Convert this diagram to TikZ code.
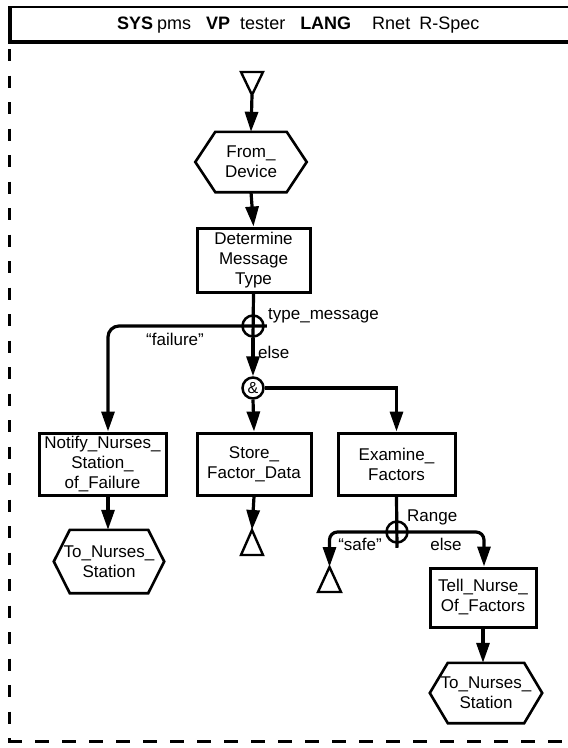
\documentclass[tikz,border=0pt]{standalone}
\usepackage{fontspec}
\setmainfont{Liberation Sans}
\usetikzlibrary{arrows.meta}

% outline of a hexagonal terminal drawn around a (borderless) text node
\newcommand\hexoutline[2]{%
  \draw[hexline] ([xshift=#2pt]#1.north west) -- ([xshift=-#2pt]#1.north east)
    -- (#1.east) -- ([xshift=-#2pt]#1.south east)
    -- ([xshift=#2pt]#1.south west) -- (#1.west) -- cycle;}

\begin{document}
\begin{tikzpicture}[x=1pt,y=-1pt,
  every node/.style={font=\fontsize{17}{20}\selectfont, inner sep=0pt, align=center},
  proc/.style={draw, line width=3pt},
  hexline/.style={line width=2.6pt, line join=miter},
  hexnode/.style={},
  junction/.style={circle, draw, line width=2.5pt, minimum size=21pt},
  link/.style={line width=3.2pt},
  arr/.style={line width=3.2pt, -{Triangle[length=20pt,width=13pt]}},
  term/.style={line width=2.4pt, line join=miter},
  frame/.style={line width=3pt}]

\useasboundingbox (0,0) rectangle (568,748);

% header strip
\draw[line width=1.8pt] (9,7) -- (580,7);
\draw[line width=3.2pt] (580,42) -- (10,42) -- (10,6);
\node[anchor=west] (hdrText) at (117,25) {\fontsize{18}{20}\selectfont
  \textbf{SYS}\hspace{4pt}pms\hspace{15pt}\textbf{VP}\hspace{10pt}tester\hspace{15pt}%
  \textbf{LANG}\hspace{21pt}Rnet\hspace{9pt}R-Spec};

% dashed outer frame (left and bottom sides)
\draw[frame, dash pattern=on 12pt off 14.5pt] (9,49) -- (9,742);
\draw[frame, dash pattern=on 14pt off 13pt] (8,741) -- (580,741);

% start terminal
\coordinate (startTip) at (252,95);
\draw[term] (startTip) -- ++(11,-23) -- ++(-22,0) -- cycle;

% nodes
\node[hexnode, minimum width=111pt, minimum height=60pt] (fromDev) at (251,162) {From\_\\Device};
\hexoutline{fromDev}{20}

\node[proc, minimum width=113pt, minimum height=64pt] (det) at (253.5,260) {Determine\\Message\\Type};

\node[junction] (xa) at (253,326) {};
\node[junction, font=\fontsize{16}{16}\selectfont] (amp) at (253,388) {\&};

\node[proc, minimum width=127pt, minimum height=62pt] (notify) at (102.5,464) {Notify\_Nurses\_\\Station\_\\of\_Failure};
\node[proc, minimum width=114pt, minimum height=62pt] (store) at (254,464) {Store\_\\Factor\_Data};
\node[proc, minimum width=117pt, minimum height=62pt] (exam) at (396.5,464) {Examine\_\\Factors};

\node[hexnode, minimum width=110pt, minimum height=63pt] (toNurseL) at (109,561.5) {To\_Nurses\_\\Station};
\hexoutline{toNurseL}{16}

\coordinate (storeEnd) at (252,530);
\draw[term] (storeEnd) -- ++(11,25) -- ++(-22,0) -- cycle;

\node[junction] (xb) at (397,532) {};

\coordinate (safeEnd) at (329.5,567);
\draw[term] (safeEnd) -- ++(11.5,25) -- ++(-23,0) -- cycle;

\node[proc, minimum width=106pt, minimum height=59pt] (tell) at (483,597.5) {Tell\_Nurse\_\\Of\_Factors};

\node[hexnode, minimum width=112pt, minimum height=60pt] (toNurseR) at (486,693) {To\_Nurses\_\\Station};
\hexoutline{toNurseR}{18}

% entry points off the box centres
\coordinate (notifyIn) at ([xshift=5.5pt]notify.north);
\coordinate (notifyOut) at ([xshift=5.5pt]notify.south);
\coordinate (examIn) at (exam.north);
\coordinate (tellIn) at ([xshift=1pt]tell.north);

% connectors
\draw[arr] (startTip) -- (fromDev.north);
\draw[arr] (fromDev.south) -- (det.north);
\draw[link] (det.south) -- (xa.south);
\draw[arr, rounded corners=11pt] ([xshift=2pt]xa.east) -- (xa -| notifyIn) -- (notifyIn);
\draw[arr] (xa.south) -- (amp.north);
\draw[arr] (amp.south) -- (store.north);
\draw[arr] (amp.east) -- (amp -| examIn) -- (examIn);
\draw[arr] (notifyOut) -- (notifyOut |- toNurseL.north);
\draw[arr] (store.south) -- (storeEnd);
\draw[link] (exam.south) -- ([yshift=-4pt]xb.south);
\draw[arr, rounded corners=8pt] (xb.center) -- (xb -| safeEnd) -- (safeEnd);
\draw[arr, rounded corners=8pt] (xb.center) -- (xb -| tellIn) -- (tellIn);
\draw[arr] (tell.south) -- (tell.south |- toNurseR.north);

% branch labels
\node[anchor=west] (lblType) at (268,316) {type\_message};
\node (lblFail) at (175,339) {“failure”};
\node[anchor=west] (lblElseA) at (258,352) {else};
\node[anchor=west] (lblRange) at (407,517) {Range};
\node (lblSafe) at (360,544) {“safe”};
\node (lblElseB) at (446,544) {else};

\end{tikzpicture}
\end{document}
